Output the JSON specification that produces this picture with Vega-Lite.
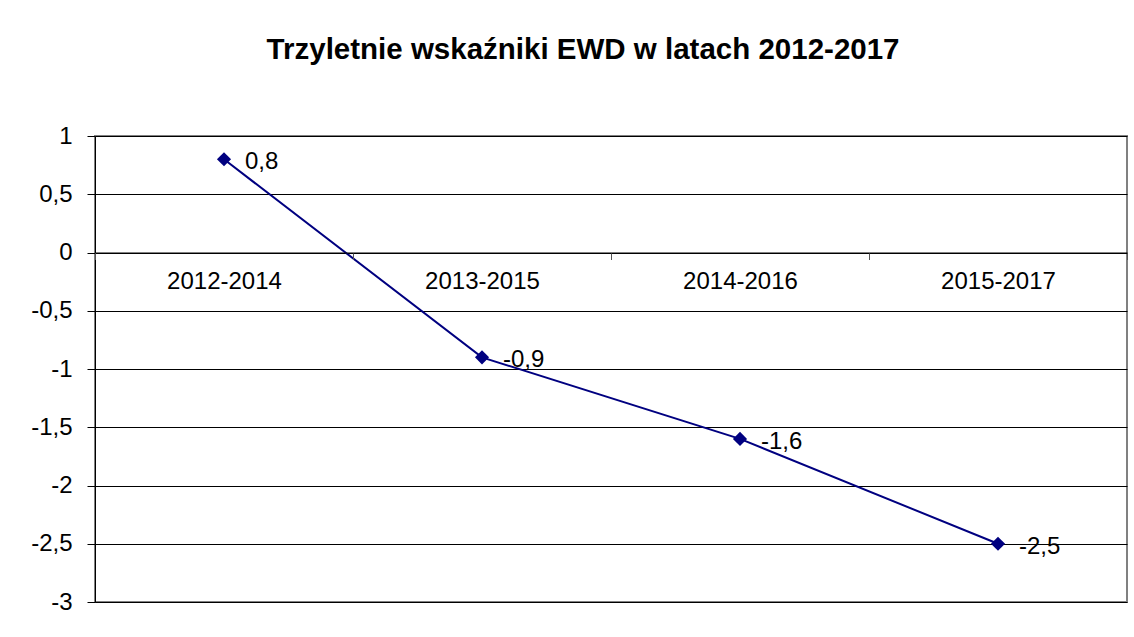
{
  "$schema": "https://vega.github.io/schema/vega-lite/v6.json",
  "width": 1032,
  "height": 466,
  "autosize": {"type": "none"},
  "padding": {"left": 95, "top": 136, "right": 7, "bottom": 35},
  "background": "white",
  "title": {
    "text": "Trzyletnie wskaźniki EWD w latach 2012-2017",
    "font": "Liberation Sans",
    "fontSize": 29.5,
    "fontWeight": "bold",
    "color": "black",
    "anchor": "middle",
    "frame": "bounds",
    "baseline": "alphabetic",
    "offset": 36,
    "dx": 4
  },
  "data": {
    "values": [
      {"okres": "2012-2014", "ewd": 0.8},
      {"okres": "2013-2015", "ewd": -0.9},
      {"okres": "2014-2016", "ewd": -1.6},
      {"okres": "2015-2017", "ewd": -2.5}
    ]
  },
  "encoding": {
    "x": {
      "field": "okres",
      "type": "nominal",
      "sort": null,
      "scale": {"paddingInner": 0, "paddingOuter": 0},
      "axis": {
        "title": null,
        "orient": "bottom",
        "offset": -349.5,
        "labelAngle": 0,
        "labelFont": "Liberation Sans",
        "labelFontSize": 24,
        "labelColor": "black",
        "labelPadding": 10,
        "domainColor": "black",
        "domainWidth": 1,
        "tickColor": "#555555",
        "tickSize": 7,
        "tickBand": "extent",
        "grid": false,
        "zindex": 1
      }
    },
    "y": {
      "field": "ewd",
      "type": "quantitative",
      "scale": {"domain": [-3, 1], "nice": false, "zero": false},
      "axis": {
        "title": null,
        "values": [-3, -2.5, -2, -1.5, -1, -0.5, 0, 0.5, 1],
        "format": "~g",
        "labelFont": "Liberation Sans",
        "labelFontSize": 24,
        "labelColor": "black",
        "labelPadding": 15,
        "tickSize": 8,
        "tickColor": "black",
        "domainColor": "black",
        "domainWidth": 1,
        "grid": true,
        "gridColor": "black",
        "gridWidth": 1,
        "gridOpacity": 1
      }
    }
  },
  "layer": [
    {
      "mark": {"type": "line", "color": "#000080", "strokeWidth": 2}
    },
    {
      "mark": {"type": "point", "shape": "diamond", "filled": true, "color": "#000080", "size": 200, "opacity": 1}
    },
    {
      "mark": {"type": "text", "align": "left", "baseline": "middle", "dx": 21, "dy": 3, "font": "Liberation Sans", "fontSize": 24, "color": "black"},
      "encoding": {
        "text": {"field": "ewd", "type": "quantitative", "format": ".1f"}
      }
    }
  ],
  "config": {
    "view": {"stroke": "#808080", "strokeWidth": 2},
    "locale": {
      "number": {
        "decimal": ",",
        "thousands": " ",
        "grouping": [3],
        "currency": ["", " zł"],
        "minus": "-"
      }
    }
  }
}
